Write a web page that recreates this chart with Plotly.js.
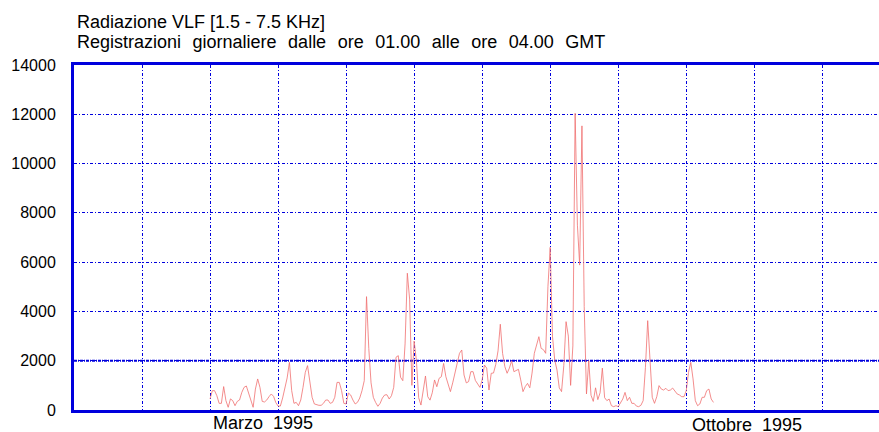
<!DOCTYPE html>
<html>
<head>
<meta charset="utf-8">
<script src="https://cdn.plot.ly/plotly-3.0.1.min.js"></script>
<style>html,body{margin:0;padding:0;background:#fff;}#chart{width:879px;height:432px;}</style>
</head>
<body>
<div id="chart"></div>
<script>
// Daily VLF radiation values, from 1 March 1995 (day 0) onwards
const vlfValues = [
  450, 785, 785, 580, 270, 270, 950, 380, 110, 450,
  380, 175, 350, 405, 715, 920, 975, 675, 380, 110,
  850, 1260, 920, 350, 325, 405, 540, 650, 555, 300,
  160, 160, 485, 950, 1300, 1935, 785, 270, 310, 175,
  405, 920, 1530, 1800, 1190, 515, 245, 215, 190, 190,
  270, 405, 405, 270, 310, 515, 1120, 1120, 785, 270,
  245, 690, 610, 405, 245, 310, 485, 785, 1190, 4600,
  2500, 1100, 515, 310, 150, 270, 485, 610, 620, 445,
  580, 920, 2140, 2205, 1330, 1190, 2680, 5550, 4500, 1000,
  2800, 2000, 500, 200, 900, 1380, 540, 400, 700, 1220,
  945, 1285, 1350, 1890, 1350, 1080, 745, 1100, 1500, 1890,
  2300, 2435, 1420, 1100, 1150, 1555, 1555, 1200, 1080, 920,
  1220, 1825, 1700, 810, 1490, 1500, 1850, 2400, 3480, 2300,
  1760, 1490, 1700, 2000, 1555, 1600, 1650, 1220, 745, 950,
  1080, 900, 1500, 2300, 2700, 2975, 2500, 2450, 2300, 5000,
  6600, 3000, 2030, 1620, 900, 745, 1800, 3585, 3000, 1000,
  2600, 12040, 7500, 5880, 11530, 4200, 650, 2000, 600, 350,
  900, 420, 700, 1700, 500, 380, 445, 175, 135, 175,
  135, 310, 445, 715, 380, 515, 270, 270, 160, 135,
  190, 380, 1730, 3625, 1865, 515, 270, 540, 990, 850,
  810, 880, 785, 810, 890, 760, 650, 610, 540, 540,
  785, 1530, 1935, 1260, 380, 175, 245, 515, 515, 785,
  850, 445, 310
];
const dayIndex = vlfValues.map((_, i) => i);

const titleLines = [
  "Radiazione VLF [1.5 - 7.5 KHz]",
  "Registrazioni\u00a0\u200a giornaliere\u00a0\u200a dalle\u00a0\u200a ore\u00a0\u200a 01.00\u00a0\u200a alle\u00a0\u200a ore\u00a0\u200a 04.00\u00a0\u200a GMT"
];
const monthLabels = ["Marzo\u00a0 1995", "Ottobre\u00a0 1995"];
const monthLabelDays = [23.4, 236.7];
const yTicks = [0, 2000, 4000, 6000, 8000, 10000, 12000, 14000];

const FONT = "Liberation Sans, Arial, Helvetica, sans-serif";
const BLUE = "#0000dd";
const GRIDDASH = "3px,2px,1px,2px";

const trace = {
  x: dayIndex,
  y: vlfValues,
  type: "scatter",
  mode: "lines",
  line: {color: "#f07070", width: 0.8},
  hoverinfo: "skip"
};

const annotations = [
  {text: titleLines[0], xref: "paper", yref: "paper", x: 0, y: 1.0, xanchor: "left", yanchor: "bottom", xshift: 1, yshift: 31, showarrow: false, font: {family: FONT, size: 18, color: "#000"}},
  {text: titleLines[1], xref: "paper", yref: "paper", x: 0, y: 1.0, xanchor: "left", yanchor: "bottom", xshift: 1, yshift: 11, showarrow: false, font: {family: FONT, size: 18, color: "#000"}},
  {text: monthLabels[0], xref: "x", yref: "paper", x: monthLabelDays[0], y: 0, yanchor: "top", yshift: -1, showarrow: false, font: {family: FONT, size: 18, color: "#000"}},
  {text: monthLabels[1], xref: "x", yref: "paper", x: monthLabelDays[1], y: 0, yanchor: "top", yshift: -3, showarrow: false, font: {family: FONT, size: 18, color: "#000"}}
];

const layout = {
  width: 879, height: 432,
  margin: {l: 74, r: 0, t: 65, b: 22, pad: 0},
  paper_bgcolor: "#fff", plot_bgcolor: "#fff",
  showlegend: false,
  xaxis: {
    range: [-60, 295], tick0: 0, dtick: 30,
    showticklabels: false, ticks: "",
    showgrid: true, gridcolor: BLUE, gridwidth: 1, griddash: GRIDDASH,
    zeroline: false,
    showline: true, linecolor: BLUE, linewidth: 3, mirror: true
  },
  yaxis: {
    range: [0, 14000], tickvals: yTicks, ticktext: yTicks.map(String),
    ticks: "", ticklabelstandoff: 12,
    tickfont: {family: FONT, size: 16, color: "#000"},
    showgrid: true, gridcolor: BLUE, gridwidth: 1, griddash: GRIDDASH,
    zeroline: false,
    showline: true, linecolor: BLUE, linewidth: 3, mirror: false
  },
  shapes: [
    {type: "line", xref: "paper", yref: "y", x0: 0, x1: 1, y0: yTicks[1], y1: yTicks[1], line: {color: BLUE, width: 2, dash: "3px,1px,1px,1px"}, layer: "below"}
  ],
  annotations: annotations
};

Plotly.newPlot("chart", [trace], layout, {staticPlot: true, displayModeBar: false});
</script>
</body>
</html>
